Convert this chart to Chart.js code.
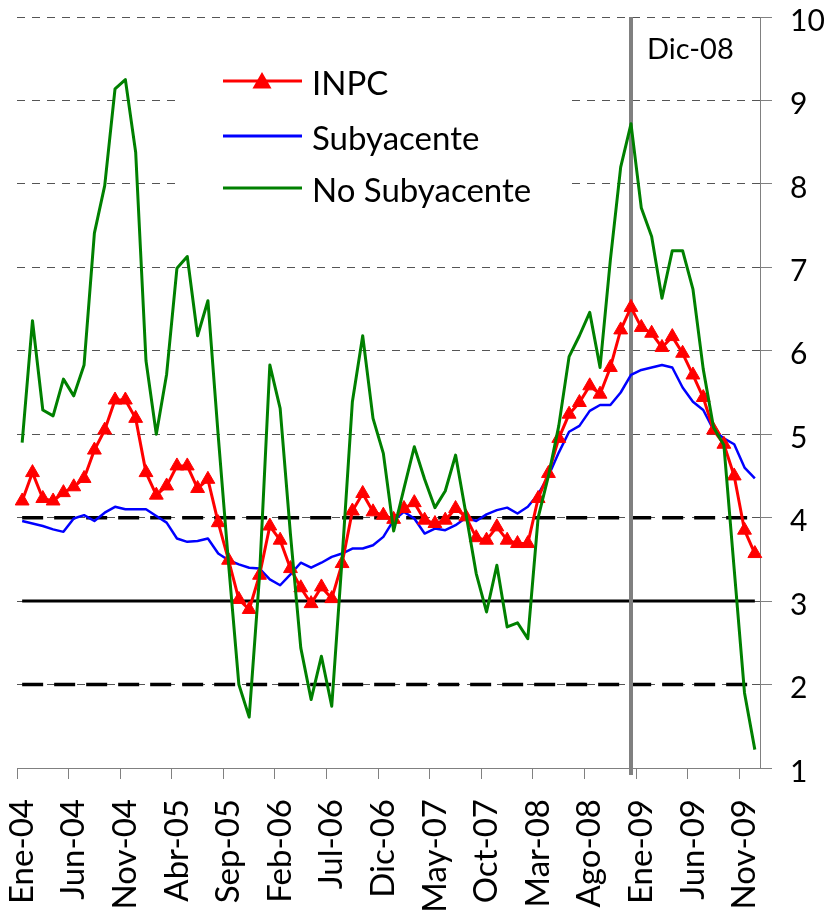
<!DOCTYPE html>
<html>
<head>
<meta charset="utf-8">
<script src="https://cdn.jsdelivr.net/npm/chart.js@4.4.1/dist/chart.umd.min.js"></script>
<style>
  body { margin: 0; background: #fff; }
  #caja { width: 831px; height: 917px; }
</style>
</head>
<body>
<div id="caja"><canvas id="inflacion"></canvas></div>
<script>
// Inflacion anual: INPC, subyacente y no subyacente, Ene-04 a Dic-09
const meses = ['Ene', 'Feb', 'Mar', 'Abr', 'May', 'Jun', 'Jul', 'Ago', 'Sep', 'Oct', 'Nov', 'Dic'];
const anios = ['04', '05', '06', '07', '08', '09'];

const etiquetas = [];
anios.forEach(a => meses.forEach(m => etiquetas.push(m + '-' + a)));

const inpc = [
  4.20, 4.54, 4.23, 4.20, 4.30, 4.37, 4.47, 4.81, 5.05, 5.41, 5.41, 5.19,
  4.54, 4.27, 4.38, 4.62, 4.62, 4.35, 4.46, 3.94, 3.49, 3.02, 2.90, 3.31,
  3.90, 3.73, 3.39, 3.16, 2.97, 3.17, 3.03, 3.45, 4.08, 4.29, 4.07, 4.03,
  3.98, 4.11, 4.18, 3.97, 3.93, 3.97, 4.11, 4.01, 3.76, 3.73, 3.89, 3.73,
  3.69, 3.69, 4.23, 4.53, 4.95, 5.24, 5.38, 5.58, 5.48, 5.80, 6.25, 6.52,
  6.28, 6.21, 6.04, 6.17, 5.97, 5.71, 5.44, 5.05, 4.88, 4.50, 3.85, 3.57
];

const subyacente = [
  3.96, 3.93, 3.90, 3.86, 3.83, 3.99, 4.03, 3.96, 4.06, 4.13, 4.10, 4.10,
  4.10, 4.02, 3.94, 3.75, 3.71, 3.72, 3.75, 3.57, 3.49, 3.44, 3.40, 3.39,
  3.26, 3.19, 3.32, 3.46, 3.40, 3.46, 3.53, 3.57, 3.63, 3.63, 3.67, 3.77,
  3.97, 4.07, 3.99, 3.81, 3.87, 3.85, 3.91, 4.00, 3.96, 4.04, 4.09, 4.12,
  4.05, 4.13, 4.28, 4.50, 4.78, 5.03, 5.10, 5.28, 5.35, 5.35, 5.50, 5.71,
  5.77, 5.80, 5.83, 5.80, 5.56, 5.39, 5.29, 5.05, 4.95, 4.88, 4.60, 4.47
];

const noSubyacente = [
  4.90, 6.36, 5.29, 5.22, 5.66, 5.46, 5.83, 7.41, 7.98, 9.14, 9.25, 8.38,
  5.88, 5.00, 5.72, 6.99, 7.13, 6.18, 6.60, 4.98, 3.45, 2.00, 1.61, 3.30,
  5.83, 5.31, 3.80, 2.44, 1.82, 2.34, 1.74, 3.50, 5.39, 6.18, 5.19, 4.77,
  3.84, 4.35, 4.85, 4.46, 4.12, 4.32, 4.75, 4.05, 3.33, 2.87, 3.43, 2.69,
  2.74, 2.55, 4.00, 4.50, 5.10, 5.93, 6.18, 6.46, 5.80, 7.09, 8.20, 8.72,
  7.71, 7.37, 6.63, 7.20, 7.20, 6.74, 5.78, 5.08, 4.87, 3.38, 1.90, 1.22
];

// meta de inflacion y su intervalo de variabilidad
const meta = 3;
const intervalo = [2, 4];
const mesMarcado = 'Dic-08';

const inicio = etiquetas[0];
const fin = etiquetas[etiquetas.length - 1];

Chart.defaults.font.family = 'Lato';
Chart.defaults.color = '#000';

// leyenda dentro del area, linea vertical de Dic-08 y su texto
const adornos = {
  id: 'adornos',
  beforeDatasetsDraw(chart) {
    const ctx = chart.ctx;
    ctx.save();
    ctx.fillStyle = '#fff';
    ctx.fillRect(181, 40, 388, 192);

    const filas = [
      { texto: 'INPC', color: '#ff0000', y: 81, marca: true },
      { texto: 'Subyacente', color: '#0000ff', y: 136, marca: false },
      { texto: 'No Subyacente', color: '#008000', y: 188, marca: false }
    ];
    ctx.font = '33px Lato';
    ctx.textBaseline = 'alphabetic';
    filas.forEach(f => {
      ctx.strokeStyle = f.color;
      ctx.lineWidth = 3;
      ctx.beginPath();
      ctx.moveTo(223, f.y);
      ctx.lineTo(302, f.y);
      ctx.stroke();
      if (f.marca) {
        Chart.helpers.drawPoint(ctx, { pointStyle: 'triangle', radius: 8, borderWidth: 1 }, 262, f.y + 2);
        ctx.fillStyle = f.color;
        ctx.fill();
      }
      ctx.fillStyle = '#000';
      ctx.fillText(f.texto, 312, f.y + 14);
    });
    ctx.restore();
  },
  beforeDatasetDraw(chart, args) {
    if (args.index !== 1) return;
    const ctx = chart.ctx;
    const area = chart.chartArea;
    const x = chart.scales.x.getPixelForValue(etiquetas.indexOf(mesMarcado));
    ctx.save();
    ctx.strokeStyle = '#808080';
    ctx.lineWidth = 4;
    ctx.beginPath();
    ctx.moveTo(x, area.top);
    ctx.lineTo(x, area.bottom + 7);
    ctx.stroke();
    ctx.font = '29px Lato';
    ctx.fillStyle = '#000';
    ctx.fillText(mesMarcado, x + 16, area.top + 42);
    ctx.restore();
  }
};

var ctx = document.getElementById('inflacion').getContext('2d');

new Chart(ctx, {
  type: 'line',
  data: {
    labels: etiquetas,
    datasets: [
      {
        label: 'INPC',
        data: inpc,
        borderColor: '#ff0000',
        backgroundColor: '#ff0000',
        borderWidth: 3,
        pointStyle: 'triangle',
        pointRadius: 8,
        pointBorderWidth: 1,
        order: 2
      },
      {
        label: 'Subyacente',
        data: subyacente,
        borderColor: '#0000ff',
        borderWidth: 2.5,
        pointRadius: 0,
        order: 3
      },
      {
        label: 'No Subyacente',
        data: noSubyacente,
        borderColor: '#008000',
        borderWidth: 3,
        pointRadius: 0,
        order: 1
      },
      {
        label: 'Meta',
        data: [{ x: inicio, y: meta }, { x: fin, y: meta }],
        borderColor: '#000',
        borderWidth: 3,
        pointRadius: 0,
        order: 4
      },
      {
        label: 'Limite superior',
        data: [{ x: inicio, y: intervalo[1] }, { x: fin, y: intervalo[1] }],
        borderColor: '#000',
        borderWidth: 3.5,
        borderDash: [21, 11],
        pointRadius: 0,
        order: 5
      },
      {
        label: 'Limite inferior',
        data: [{ x: inicio, y: intervalo[0] }, { x: fin, y: intervalo[0] }],
        borderColor: '#000',
        borderWidth: 3.5,
        borderDash: [21, 11],
        pointRadius: 0,
        order: 5
      }
    ]
  },
  options: {
    responsive: true,
    maintainAspectRatio: false,
    animation: false,
    elements: { line: { tension: 0, borderJoinStyle: 'round' } },
    layout: { padding: { left: 17, top: 17, right: 0, bottom: 0 } },
    plugins: {
      legend: { display: false },
      tooltip: { enabled: false }
    },
    scales: {
      x: {
        offset: true,
        grid: {
          offset: true,
          drawOnChartArea: false,
          tickLength: 11,
          color: c => (c.index !== undefined && c.index % 5 === 0) ? '#808080' : 'rgba(0,0,0,0)'
        },
        border: { color: '#808080', width: 1 },
        ticks: {
          autoSkip: false,
          minRotation: 90,
          maxRotation: 90,
          padding: 20,
          font: { size: 33, lineHeight: 1 },
          callback: (v, i) => i % 5 === 0 ? etiquetas[i] : ''
        },
        afterFit: s => { s.height = 149; }
      },
      y: {
        position: 'right',
        min: 1,
        max: 10,
        ticks: {
          stepSize: 1,
          padding: 18,
          labelOffset: 4,
          font: { size: 30, lineHeight: 1 }
        },
        grid: {
          color: c => (c.tick && c.tick.value > 1) ? '#555' : 'rgba(0,0,0,0)',
          tickColor: '#808080',
          tickLength: 12,
          lineWidth: 1
        },
        border: { color: '#808080', width: 1, dash: [8, 7] },
        afterFit: s => {
          s.width = 71;
          s.paddingTop = 0;
          s.paddingBottom = 0;
        }
      }
    }
  },
  plugins: [adornos]
});
</script>
</body>
</html>
